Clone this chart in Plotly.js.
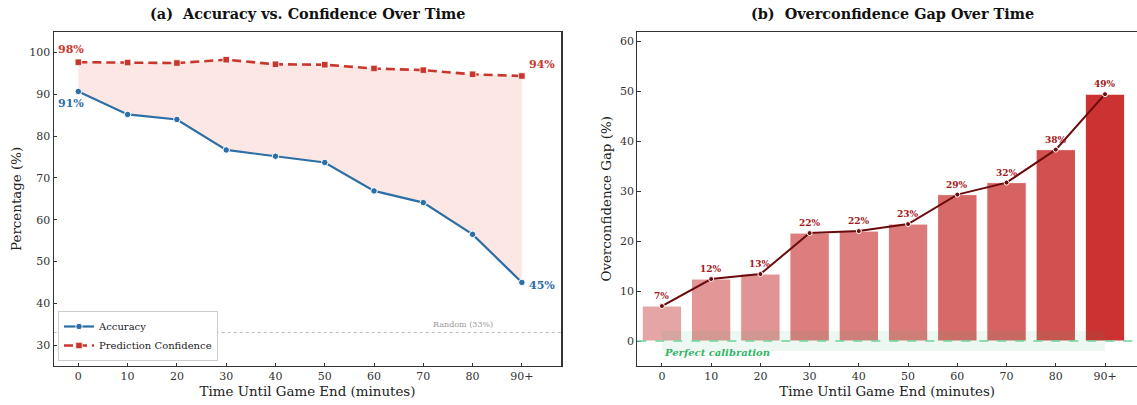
<!DOCTYPE html>
<html><head><meta charset="utf-8">
<script src="https://cdn.plot.ly/plotly-3.0.1.min.js"></script>
<style>html,body{margin:0;padding:0;background:#fff;overflow:hidden}</style>
</head><body><div id="chart" style="width:1137px;height:405px"></div>
<script>
const categories = ['0','10','20','30','40','50','60','70','80','90+'];
const accuracy = [90.7, 85.2, 84.0, 76.7, 75.2, 73.7, 66.9, 64.1, 56.5, 45.0];
const confidence = [97.7, 97.6, 97.5, 98.3, 97.2, 97.1, 96.2, 95.8, 94.8, 94.4];
const gap = [7.0, 12.4, 13.4, 21.6, 22.0, 23.4, 29.3, 31.7, 38.3, 49.4];
const randomBaseline = 33;
const leftTicks = [30, 40, 50, 60, 70, 80, 90, 100];
const rightTicks = [0, 10, 20, 30, 40, 50, 60];

const idx = categories.map((c, i) => i);
const FONT = 'DejaVu Serif, Liberation Serif, serif';
const W = 1137, H = 405;
const BLUE = '#2c6fa6', RED = '#c8372d', DARK = '#6b0b0b', LBLRED = '#a3161a', GREEN = '#2fb565';

const gmin = Math.min(...gap), gmax = Math.max(...gap);
function barColor(v) {
  const t = (v - gmin) / (gmax - gmin);
  const a = [230, 165, 165], b = [204, 50, 50];
  const c = a.map((x, k) => Math.round(x + (b[k] - x) * t));
  return `rgb(${c[0]},${c[1]},${c[2]})`;
}

const traces = [
  { x: idx.concat(idx.slice().reverse()), y: confidence.concat(accuracy.slice().reverse()),
    fill: 'toself', fillcolor: 'rgba(236,112,99,0.17)', line: { width: 0 }, mode: 'lines',
    showlegend: false, hoverinfo: 'skip', xaxis: 'x', yaxis: 'y' },
  { x: idx, y: accuracy, name: 'Accuracy', mode: 'lines+markers',
    line: { color: BLUE, width: 2.2 }, marker: { symbol: 'circle', size: 6.5, color: BLUE, line: { color: 'white', width: 1 } },
    xaxis: 'x', yaxis: 'y' },
  { x: idx, y: confidence, name: 'Prediction Confidence', mode: 'lines+markers',
    line: { color: RED, width: 2.6, dash: '9px,5px' }, marker: { symbol: 'square', size: 6.5, color: RED, line: { color: 'white', width: 0.8 } },
    xaxis: 'x', yaxis: 'y' },
  { x: idx, y: gap, type: 'bar', width: 0.8, showlegend: false,
    marker: { color: gap.map(barColor), line: { color: 'white', width: 1 } },
    xaxis: 'x2', yaxis: 'y2' },
  { x: idx, y: gap, mode: 'lines+markers', showlegend: false,
    line: { color: DARK, width: 2 }, marker: { size: 5, color: DARK, line: { color: 'white', width: 1 } },
    xaxis: 'x2', yaxis: 'y2' }
];

const ydom = [39 / H, 373.3 / H];
const axisCommon = {
  showline: true, linecolor: '#333', linewidth: 1.2, ticks: 'inside', ticklen: 3.5, tickcolor: '#333',
  showgrid: false, zeroline: false, tickfont: { family: FONT, size: 11, color: '#333' }
};
const titleFont = { family: FONT, size: 13.4, color: '#222' };

const annotations = [
  { text: '<b>(a)\u00a0\u00a0Accuracy vs. Confidence Over Time</b>', x: 307.5 / W, y: 1 - 13 / H, xref: 'paper', yref: 'paper',
    xanchor: 'center', yanchor: 'middle', showarrow: false, font: { family: FONT, size: 14.4, color: '#111' } },
  { text: '<b>(b)\u00a0\u00a0Overconfidence Gap Over Time</b>', x: 892 / W, y: 1 - 13 / H, xref: 'paper', yref: 'paper',
    xanchor: 'center', yanchor: 'middle', showarrow: false, font: { family: FONT, size: 14.4, color: '#111' } },
  { text: '<b>' + confidence[0].toFixed(0) + '%</b>', x: 0, y: confidence[0], xref: 'x', yref: 'y', showarrow: false,
    xshift: -7, yshift: 13, font: { family: FONT, size: 11, color: RED } },
  { text: '<b>' + accuracy[0].toFixed(0) + '%</b>', x: 0, y: accuracy[0], xref: 'x', yref: 'y', showarrow: false,
    xshift: -7, yshift: -12, font: { family: FONT, size: 11, color: BLUE } },
  { text: '<b>' + confidence[9].toFixed(0) + '%</b>', x: 9, y: confidence[9], xref: 'x', yref: 'y', showarrow: false,
    xanchor: 'left', xshift: 5, yshift: 11, font: { family: FONT, size: 11, color: RED } },
  { text: '<b>' + accuracy[9].toFixed(0) + '%</b>', x: 9, y: accuracy[9], xref: 'x', yref: 'y', showarrow: false,
    xanchor: 'left', xshift: 5, yshift: -3, font: { family: FONT, size: 11, color: BLUE } },
  { text: 'Random (' + randomBaseline + '%)', x: 7.8, y: randomBaseline + 2, xref: 'x', yref: 'y', showarrow: false,
    font: { family: FONT, size: 8, color: '#999' } },
  { text: '<b><i>Perfect calibration</i></b>', x: 0, y: -2.3, xref: 'x2', yref: 'y2', showarrow: false, xanchor: 'left',
    font: { family: FONT, size: 10, color: GREEN } }
];
gap.forEach((g, i) => annotations.push({
  text: '<b>' + g.toFixed(0) + '%</b>', x: i, y: g, xref: 'x2', yref: 'y2', showarrow: false, yshift: 10,
  font: { family: FONT, size: 9, color: LBLRED }
}));

const layout = {
  width: W, height: H, margin: { l: 0, r: 0, t: 0, b: 0 }, paper_bgcolor: 'white', plot_bgcolor: 'white',
  showlegend: true, barmode: 'overlay',
  legend: { x: 58 / W, y: 44 / H, xanchor: 'left', yanchor: 'bottom', bgcolor: 'rgba(255,255,255,0.9)',
    bordercolor: '#ccc', borderwidth: 1, font: { family: FONT, size: 10, color: '#222' },
    tracegroupgap: 0, itemwidth: 30 },
  xaxis: Object.assign({}, axisCommon, { domain: [53.7 / W, 561.3 / W], range: [-0.5, 9.8], mirror: true,
    tickvals: idx, ticktext: categories,
    title: { text: 'Time Until Game End (minutes)', font: titleFont, standoff: 4 } }),
  yaxis: Object.assign({}, axisCommon, { domain: ydom, range: [25, 105], mirror: true, tickvals: leftTicks,
    title: { text: 'Percentage (%)', font: titleFont, standoff: 4 } }),
  xaxis2: Object.assign({}, axisCommon, { domain: [637.3 / W, 1], range: [-0.5, 9.65], mirror: true, anchor: 'y2',
    tickvals: idx, ticktext: categories,
    title: { text: 'Time Until Game End (minutes)', font: titleFont, standoff: 4 } }),
  yaxis2: Object.assign({}, axisCommon, { domain: ydom, range: [-5, 61.9], mirror: false, anchor: 'x2', tickvals: rightTicks,
    title: { text: 'Overconfidence Gap (%)', font: titleFont, standoff: 5 } }),
  shapes: [
    { type: 'line', xref: 'x domain', yref: 'y', x0: 0, x1: 1, y0: randomBaseline, y1: randomBaseline,
      line: { color: '#bbbbbb', width: 1, dash: 'dot' }, layer: 'below' },
    { type: 'rect', xref: 'x2', yref: 'y2', x0: 0, x1: 9, y0: -2, y1: 2,
      fillcolor: 'rgba(46,180,100,0.09)', line: { width: 0 }, layer: 'above' },
    { type: 'line', xref: 'x2 domain', yref: 'y2', x0: 0, x1: 1, y0: 0, y1: 0,
      line: { color: '#6bd396', width: 1.5, dash: 'dash' }, layer: 'above' }
  ],
  annotations: annotations
};

Plotly.newPlot('chart', traces, layout, { staticPlot: true, displayModeBar: false });
</script></body></html>
